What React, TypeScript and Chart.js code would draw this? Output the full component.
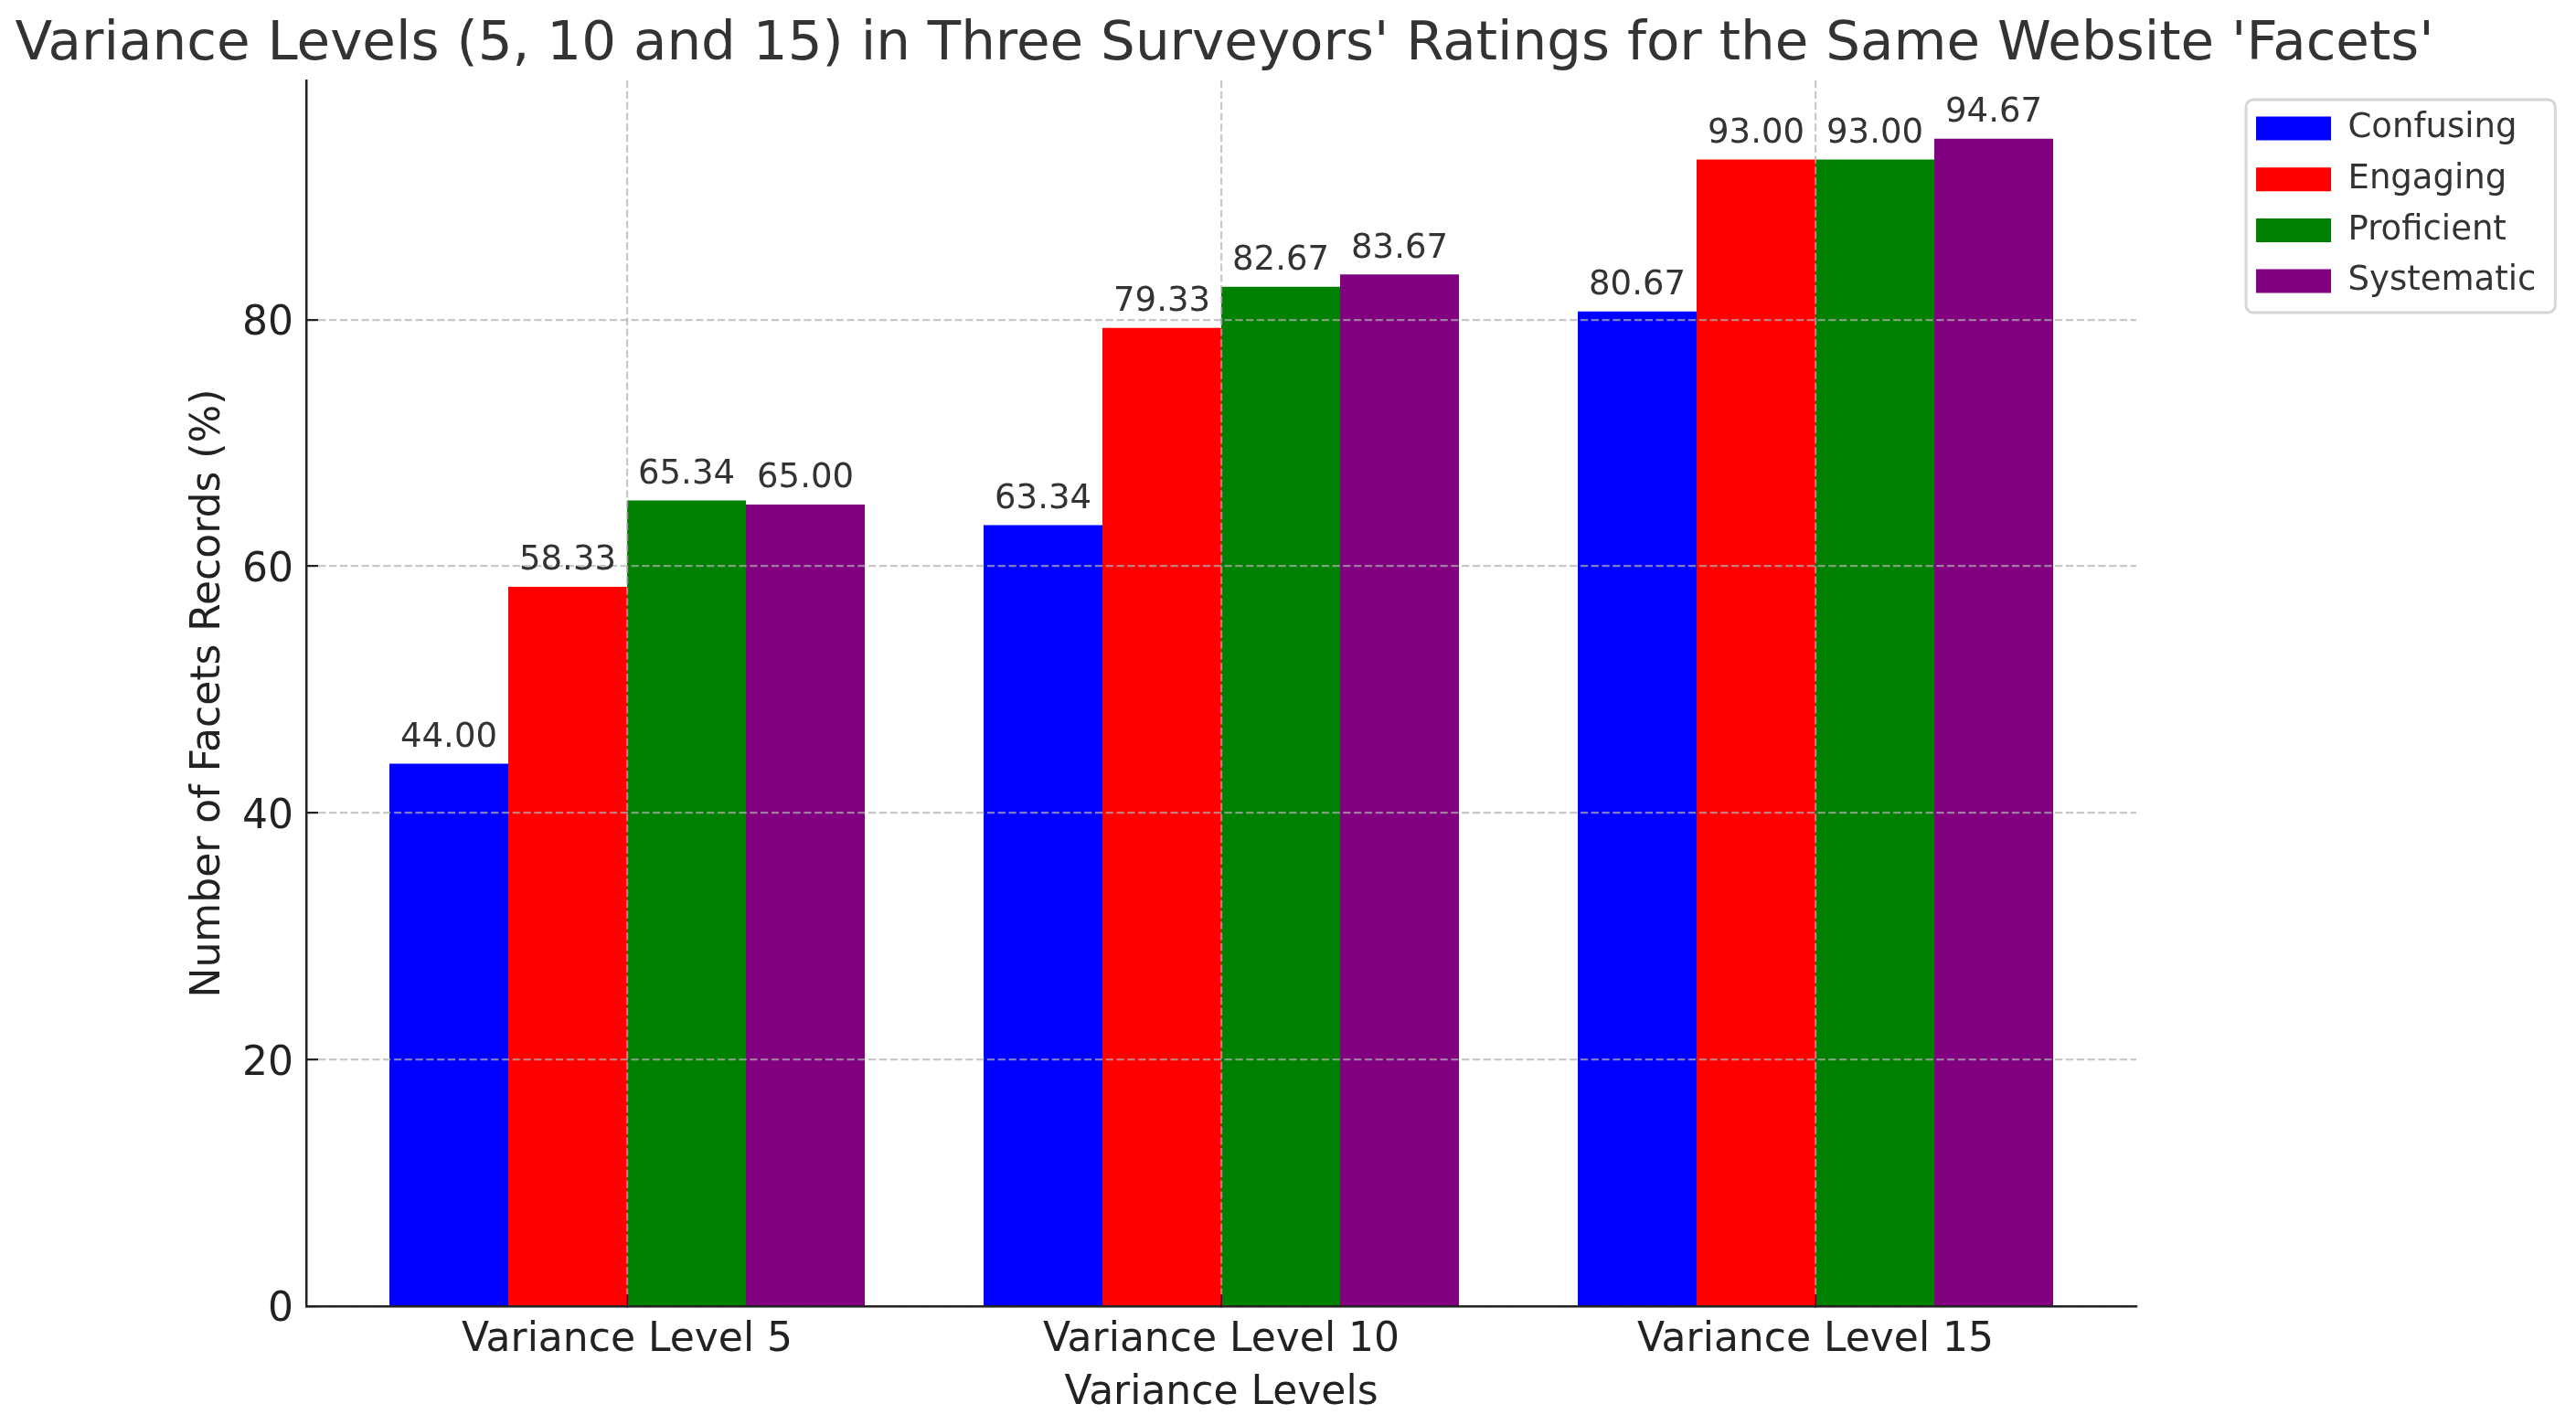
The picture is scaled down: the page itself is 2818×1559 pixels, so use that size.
import React, { useEffect, useRef } from "react";
import { Chart, registerables } from "chart.js";

Chart.register(...registerables);

const categories = ["Variance Level 5", "Variance Level 10", "Variance Level 15"];
const seriesNames = ["Confusing", "Engaging", "Proficient", "Systematic"];
const confusing = [44.0, 63.34, 80.67];
const engaging = [58.33, 79.33, 93.0];
const proficient = [65.34, 82.67, 93.0];
const systematic = [65.0, 83.67, 94.67];
const seriesValues = [confusing, engaging, proficient, systematic];
const seriesColors = ["#0000ff", "#ff0000", "#008000", "#800080"];
const yTicks = [0, 20, 40, 60, 80];

const TITLE =
  "Variance Levels (5, 10 and 15) in Three Surveyors' Ratings for the Same Website 'Facets'";
const FONT = "'DejaVu Sans', sans-serif";
const AXIS = "#222222";
const GRID = "rgba(176, 176, 176, 0.7)";

// matplotlib-style autoscale: 5% headroom above the tallest bar
const yMax = Math.max(...seriesValues.flat()) * 1.05;

const barLabels = {
  id: "barLabels",
  afterDraw(chart: any) {
    const { ctx } = chart;
    ctx.save();
    ctx.font = `37px ${FONT}`;
    ctx.fillStyle = "#333333";
    ctx.textAlign = "center";
    ctx.textBaseline = "alphabetic";
    seriesValues.forEach((values, di) => {
      chart.getDatasetMeta(di).data.forEach((bar: any, i: number) => {
        ctx.fillText(values[i].toFixed(2), bar.x, bar.y - 18.7);
      });
    });
    ctx.restore();
  },
};

// rounded frame round the legend items, like matplotlib's legend box
const legendFrame = {
  id: "legendFrame",
  afterDraw(chart: any) {
    const boxes = chart.legend?.legendHitBoxes;
    if (!boxes || !boxes.length) return;
    const { ctx } = chart;
    const last = boxes[boxes.length - 1];
    const left = boxes[0].left - 11;
    const top = boxes[0].top - 13;
    const right = Math.max(...boxes.map((b: any) => b.left + b.width)) + 21;
    const bottom = last.top + last.height + 16;
    ctx.save();
    ctx.strokeStyle = "#d6d6d6";
    ctx.lineWidth = 3;
    ctx.beginPath();
    ctx.roundRect(left, top, right - left, bottom - top, 8);
    ctx.stroke();
    ctx.restore();
  },
};

const tickFont = { family: FONT, size: 44 };

export default function App() {
  const canvasRef = useRef<HTMLCanvasElement | null>(null);

  useEffect(() => {
    document.body.style.margin = "0";
    if (!canvasRef.current) return;
    const chart = new Chart(canvasRef.current, {
      type: "bar",
      data: {
        datasets: seriesNames.map((name, di) => ({
          label: name,
          data: seriesValues[di].map((v, i) => ({ x: i, y: v })),
          backgroundColor: seriesColors[di],
          borderWidth: 0,
          yAxisID: "y",
        })),
      },
      options: {
        responsive: false,
        animation: false,
        devicePixelRatio: 1,
        events: [],
        categoryPercentage: 0.8,
        barPercentage: 1,
        layout: { padding: { left: 16.5, right: 33.7, top: 0, bottom: 0 } },
        plugins: {
          title: {
            display: true,
            text: TITLE,
            align: "start",
            color: "#333333",
            font: { family: FONT, size: 59.5, weight: "normal", lineHeight: 1.2 },
            padding: { top: 14, bottom: 2.6 },
          },
          legend: {
            position: "right",
            align: "start",
            fullSize: false,
            // empty title only pushes the items down a little
            title: { display: true, text: "", font: { size: 15.3, lineHeight: 1 }, padding: 0 },
            labels: {
              boxWidth: 82,
              boxHeight: 26,
              padding: 18.7,
              color: "#333333",
              font: { family: FONT, size: 37 },
            },
          },
          tooltip: { enabled: false },
        },
        scales: {
          x: {
            type: "linear",
            min: -0.54,
            max: 2.54,
            offset: false,
            afterBuildTicks: (axis: any) => {
              axis.ticks = categories.map((_, i) => ({ value: i }));
            },
            afterFit: (axis: any) => {
              axis.height = 130;
            },
            ticks: {
              callback: (_v: any, i: number) => categories[i],
              color: AXIS,
              font: tickFont,
              padding: 24.6,
              maxRotation: 0,
              autoSkip: false,
            },
            grid: {
              offset: false,
              z: 1,
              color: GRID,
              lineWidth: 2.2,
              tickLength: -13,
              tickColor: AXIS,
              tickWidth: 2.2,
            },
            border: { display: true, color: AXIS, width: 2.5, z: 2, dash: [8.2, 3.6] },
            title: {
              display: true,
              text: "Variance Levels",
              color: AXIS,
              font: tickFont,
              padding: { top: 0, bottom: 7.6 },
            },
          },
          y: {
            type: "linear",
            min: 0,
            max: yMax,
            afterBuildTicks: (axis: any) => {
              axis.ticks = yTicks.map((v) => ({ value: v }));
            },
            afterFit: (axis: any) => {
              axis.width = 318.5;
            },
            ticks: {
              // empty first line nudges the number down onto the tick
              callback: (v: any) => ["", String(v)],
              color: AXIS,
              font: { ...tickFont, lineHeight: "10px" },
              padding: 27,
            },
            grid: {
              z: 1,
              color: GRID,
              lineWidth: 2.2,
              tickLength: -13,
              tickColor: AXIS,
              tickWidth: 2.2,
            },
            border: { display: true, color: AXIS, width: 2.5, z: 2, dash: [8.2, 3.6] },
            title: {
              display: true,
              text: "Number of Facets Records (%)",
              color: AXIS,
              font: tickFont,
              padding: { top: 186.1, bottom: 0 },
            },
          },
          // empty spacer between the plot and the legend
          gap: {
            type: "linear",
            position: "right",
            display: true,
            grid: { display: false, drawTicks: false },
            border: { display: false },
            ticks: { display: false },
            afterFit: (axis: any) => {
              axis.width = 112.3;
            },
          },
        },
      } as any,
      plugins: [barLabels, legendFrame],
    });
    return () => chart.destroy();
  }, []);

  return (
    <div style={{ width: 2818, height: 1559, background: "#ffffff" }}>
      <canvas ref={canvasRef} width={2818} height={1559} style={{ width: 2818, height: 1559 }} />
    </div>
  );
}
